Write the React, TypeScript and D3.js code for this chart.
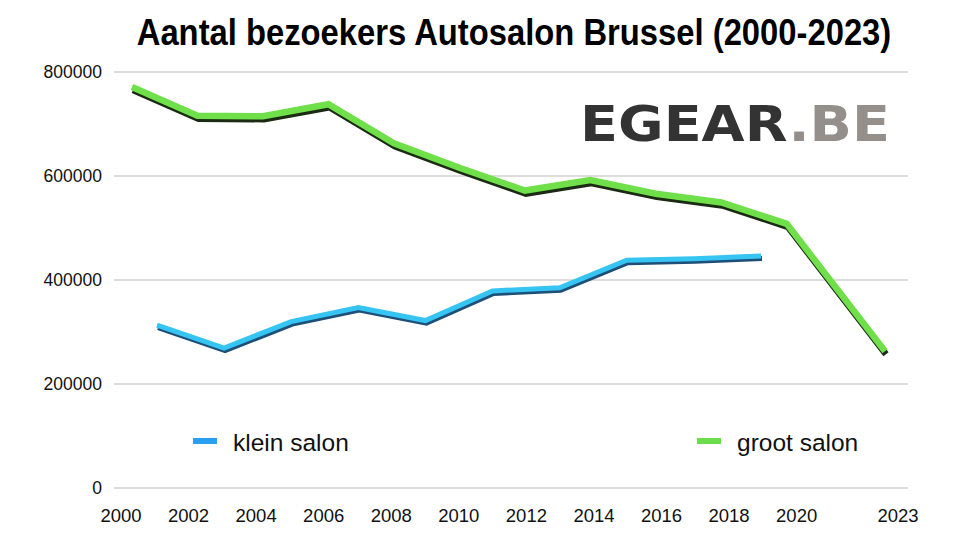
import React from "react";
import * as d3 from "d3";

const grootYears = [2000, 2002, 2004, 2006, 2008, 2010, 2012, 2014, 2016, 2018, 2020, 2023];
const grootValues = [771000, 716000, 715000, 738000, 663000, 616000, 572000, 592000, 566000, 549000, 508000, 263000];
const kleinYears = [2001, 2003, 2005, 2007, 2009, 2011, 2013, 2015, 2017, 2019];
const kleinValues = [313000, 269000, 320000, 347000, 322000, 379000, 385000, 438000, 441000, 446000];
const xTickLabels = [2000, 2002, 2004, 2006, 2008, 2010, 2012, 2014, 2016, 2018, 2020, 2023];
const yTicks = [0, 200000, 400000, 600000, 800000];
const title = "Aantal bezoekers Autosalon Brussel (2000-2023)";
const seriesNames = ["klein salon", "groot salon"];

const W = 962;
const H = 541;
const FONT = "'Liberation Sans', Arial, Helvetica, sans-serif";

export default function App() {
  const y = d3.scaleLinear().domain([0, 800000]).range([488, 72]);
  const xLabel = d3.scaleLinear().domain([2000, 2023]).range([121, 898]);
  const xGroot = d3.scaleLinear().domain([2000, 2023]).range([132, 885]);
  const xKlein = d3.scaleLinear().domain([2001, 2019]).range([157, 761]);

  const grootLine = d3
    .line<number>()
    .x((_, i) => xGroot(grootYears[i]))
    .y((d) => y(d));
  const kleinLine = d3
    .line<number>()
    .x((_, i) => xKlein(kleinYears[i]))
    .y((d) => y(d));

  const gPath = grootLine(grootValues) || "";
  const kPath = kleinLine(kleinValues) || "";

  return (
    <svg
      width={W}
      height={H}
      style={{ position: "fixed", left: 0, top: 0, background: "#fff" }}
      fontFamily={FONT}
    >
      <rect x={0} y={0} width={W} height={H} fill="#fff" />
      <g transform="translate(514,45) scale(0.886,1)">
        <text x={0} y={0} textAnchor="middle" fontSize={37} fontWeight="bold" fill="#000">
          {title}
        </text>
      </g>

      {yTicks.map((t) => (
        <g key={t}>
          <line x1={114} x2={908} y1={y(t)} y2={y(t)} stroke="#d2d2d2" strokeWidth={1.3} />
          <text x={102} y={y(t)} dy="0.36em" textAnchor="end" fontSize={17.5} fill="#111">
            {t}
          </text>
        </g>
      ))}

      {xTickLabels.map((t) => (
        <text key={t} x={xLabel(t)} y={522} textAnchor="middle" fontSize={18.5} fill="#111">
          {t}
        </text>
      ))}

      {/* logo watermark */}
      <text
        x={580}
        y={141}
        fontSize={50}
        fontWeight="bold"
        fontFamily="'DejaVu Sans', sans-serif"
        textLength={310}
        lengthAdjust="spacingAndGlyphs"
      >
        <tspan fill="#333333">EGEAR</tspan>
        <tspan fill="#958f8b">.BE</tspan>
      </text>

      {/* klein salon line with 3D shadow */}
      <path d={kPath} fill="none" stroke="#1d4f78" strokeWidth={5} transform="translate(1,2.5)" strokeLinejoin="miter" />
      <path d={kPath} fill="none" stroke="#36c4f2" strokeWidth={5} strokeLinejoin="miter" />

      {/* groot salon line with 3D shadow */}
      <path d={gPath} fill="none" stroke="#1b2a12" strokeWidth={6.5} transform="translate(1,3)" strokeLinejoin="miter" />
      <path d={gPath} fill="none" stroke="#6fe04a" strokeWidth={6.5} strokeLinejoin="miter" />

      {/* legend */}
      <rect x={193} y={438} width={24} height={6} fill="#2a9ff0" />
      <text x={233} y={451} fontSize={24.5} fill="#111">
        {seriesNames[0]}
      </text>
      <rect x={697} y={438} width={24} height={6} fill="#6ddc4b" />
      <text x={737} y={451} fontSize={24.5} fill="#111">
        {seriesNames[1]}
      </text>
    </svg>
  );
}
